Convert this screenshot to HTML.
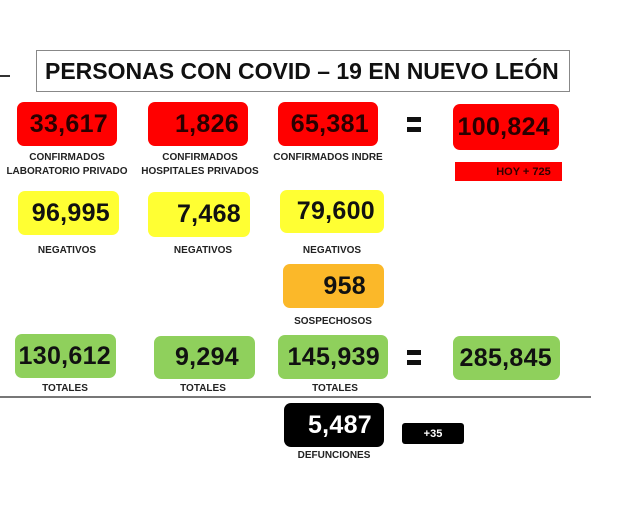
<!DOCTYPE html>
<html><head><meta charset="utf-8"><style>
body{margin:0;width:628px;height:524px;background:#fff;position:relative;overflow:hidden;font-family:"Liberation Sans","DejaVu Sans",sans-serif}
.b{position:absolute;border-radius:7px;font-weight:bold;font-size:25px;color:#111;text-align:right;padding-right:9px;box-sizing:border-box;display:flex;align-items:center;justify-content:flex-end;letter-spacing:0.3px}
.r{background:#ff0000;color:#2a0000}.y{background:#ffff33}.o{background:#fbb829}.g{background:#8fd05c}.k{background:#000;color:#fff}
.l{position:absolute;font-weight:bold;font-size:10px;color:#222;text-align:center;line-height:14px}
.eq{position:absolute;width:14px;height:5px;background:#111}
</style></head><body>
<div style="position:absolute;left:0;top:75px;width:10px;height:2px;background:#333"></div>
<div style="position:absolute;left:36px;top:50px;width:534px;height:42px;border:1.5px solid #888;box-sizing:border-box;font-weight:bold;font-size:23px;letter-spacing:0px;color:#111;display:flex;align-items:center;padding-left:8px;white-space:nowrap">PERSONAS CON COVID – 19 EN NUEVO LEÓN</div>

<div class="b r" style="left:17px;top:102px;width:100px;height:44px">33,617</div>
<div class="b r" style="left:148px;top:102px;width:100px;height:44px">1,826</div>
<div class="b r" style="left:278px;top:102px;width:100px;height:44px">65,381</div>
<div class="eq" style="left:407px;top:117px"></div>
<div class="eq" style="left:407px;top:127px"></div>
<div class="b r" style="left:453px;top:104px;width:106px;height:46px">100,824</div>
<div style="position:absolute;left:455px;top:162px;width:107px;height:19px;background:#ff0000;color:#300;font-weight:bold;font-size:11px;display:flex;align-items:center;justify-content:center;padding-left:30px;box-sizing:border-box">HOY + 725</div>
<div class="l" style="left:0;top:151px;width:134px">CONFIRMADOS<br>LABORATORIO PRIVADO</div>
<div class="l" style="left:136px;top:151px;width:128px">CONFIRMADOS<br>HOSPITALES PRIVADOS</div>
<div class="l" style="left:264px;top:151px;width:128px">CONFIRMADOS INDRE</div>

<div class="b y" style="left:18px;top:191px;width:101px;height:44px">96,995</div>
<div class="b y" style="left:148px;top:192px;width:102px;height:45px">7,468</div>
<div class="b y" style="left:280px;top:190px;width:104px;height:43px">79,600</div>
<div class="l" style="left:17px;top:244px;width:100px">NEGATIVOS</div>
<div class="l" style="left:153px;top:244px;width:100px">NEGATIVOS</div>
<div class="l" style="left:282px;top:244px;width:100px">NEGATIVOS</div>

<div class="b o" style="left:283px;top:264px;width:101px;height:44px;padding-right:18px">958</div>
<div class="l" style="left:273px;top:315px;width:120px">SOSPECHOSOS</div>

<div class="b g" style="left:15px;top:334px;width:101px;height:44px;padding-right:5px">130,612</div>
<div class="b g" style="left:154px;top:336px;width:101px;height:43px;padding-right:16px">9,294</div>
<div class="b g" style="left:278px;top:335px;width:110px;height:44px;padding-right:8px">145,939</div>
<div class="eq" style="left:407px;top:350px"></div>
<div class="eq" style="left:407px;top:360px"></div>
<div class="b g" style="left:453px;top:336px;width:107px;height:44px;padding-right:8px">285,845</div>
<div class="l" style="left:15px;top:382px;width:100px">TOTALES</div>
<div class="l" style="left:153px;top:382px;width:100px">TOTALES</div>
<div class="l" style="left:285px;top:382px;width:100px">TOTALES</div>

<div style="position:absolute;left:0;top:396px;width:591px;height:2px;background:#777"></div>

<div class="b k" style="left:284px;top:403px;width:100px;height:44px;padding-right:12px">5,487</div>
<div style="position:absolute;left:402px;top:423px;width:62px;height:21px;background:#000;color:#fff;border-radius:3px;font-weight:bold;font-size:11px;display:flex;align-items:center;justify-content:center">+35</div>
<div class="l" style="left:274px;top:449px;width:120px">DEFUNCIONES</div>
</body></html>
